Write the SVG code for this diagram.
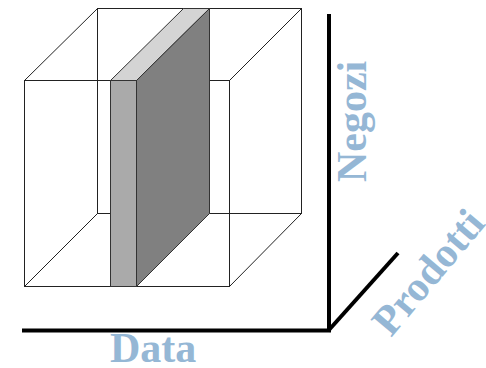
<svg xmlns="http://www.w3.org/2000/svg" width="486" height="368" viewBox="0 0 486 368">
  <style>
    .edge { fill: none; stroke: #222; stroke-width: 1; }
    .axis { fill: none; stroke: #000; stroke-width: 4; stroke-linecap: butt; stroke-linejoin: miter; }
    .face { stroke: #333; stroke-width: 1; }
    .label { font-family: "Liberation Serif", "Times New Roman", serif; font-weight: bold; font-size: 42px; fill: #95b7d5; }
  </style>
  <rect width="486" height="368" fill="#fff"/>

  <!-- wireframe cube -->
  <g id="cube">
    <rect class="edge" x="97.5" y="8.5" width="204" height="205"/>
    <rect class="edge" x="24.5" y="80.5" width="205" height="206"/>
    <line class="edge" x1="24.5" y1="80.5" x2="97.5" y2="8.5"/>
    <line class="edge" x1="229.5" y1="80.5" x2="301.5" y2="8.5"/>
    <line class="edge" x1="24.5" y1="286.5" x2="97.5" y2="213.5"/>
    <line class="edge" x1="229.5" y1="286.5" x2="301.5" y2="213.5"/>
  </g>

  <!-- shaded slice through the cube -->
  <g id="slice">
    <polygon class="face" fill="#d4d4d4" points="110.5,80.5 136.5,80.5 209.5,8.5 183.5,8.5"/>
    <polygon class="face" fill="#808080" points="136.5,80.5 209.5,8.5 209.5,213.5 136.5,286.5"/>
    <rect class="face" fill="#aaaaaa" x="110.5" y="80.5" width="26" height="206"/>
  </g>

  <!-- axes -->
  <g id="axes">
    <polyline class="axis" points="329,14 329,330.5 22,330.5"/>
    <line class="axis" x1="328" y1="331" x2="398" y2="253"/>
  </g>

  <!-- axis labels -->
  <g id="label-data">
    <text class="label" x="110" y="362">Data</text>
  </g>
  <g id="label-negozi">
    <text class="label" transform="translate(366,182) rotate(-90)">Negozi</text>
  </g>
  <g id="label-prodotti">
    <text class="label" font-size="39.5" transform="translate(391,338) rotate(-50)">Prodotti</text>
  </g>
</svg>
